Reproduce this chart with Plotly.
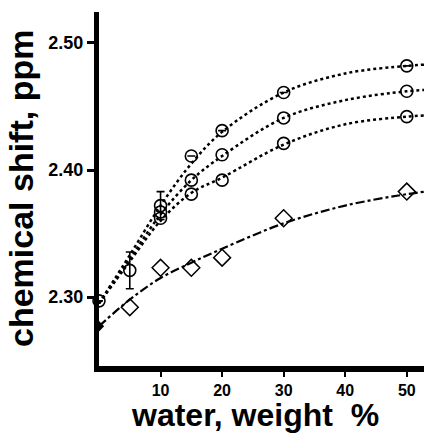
import plotly.graph_objects as go

# measured data points (water weight %, chemical shift ppm)
x_circ = [10, 15, 20, 30, 50]
top_y = [2.372, 2.411, 2.431, 2.461, 2.482]
mid_y = [2.367, 2.392, 2.412, 2.441, 2.462]
bot_y = [2.362, 2.381, 2.392, 2.421, 2.442]
top_err = [0.011, 0, 0, 0, 0]

x_shared = [0, 5]
shared_y = [2.297, 2.321]
shared_err = [0, 0.0145]

x_diam = [5, 10, 15, 20, 30, 50]
diam_y = [2.292, 2.323, 2.323, 2.331, 2.362, 2.383]
x_diam0 = [0]
diam0_y = [2.277]

# fitted curves
x_curve = [0, 5, 10, 15, 20, 30, 40, 50, 53]
top_curve = [2.295, 2.333, 2.372, 2.405, 2.430, 2.461, 2.476, 2.482, 2.483]
mid_curve = [2.295, 2.330, 2.365, 2.392, 2.411, 2.441, 2.455, 2.462, 2.463]
bot_curve = [2.295, 2.328, 2.360, 2.382, 2.394, 2.420, 2.436, 2.442, 2.443]
diam_curve = [2.277, 2.298, 2.315, 2.327, 2.338, 2.358, 2.372, 2.381, 2.383]

x_ticks = [10, 20, 30, 40, 50]
y_ticks = [2.30, 2.40, 2.50]
y_ticklabels = ["2.30", "2.40", "2.50"]

fig = go.Figure()
for c in (top_curve, mid_curve, bot_curve):
    fig.add_trace(go.Scatter(x=x_curve, y=c, mode="lines",
                             line=dict(color="black", width=2.5, dash="dot", shape="spline"),
                             hoverinfo="skip"))
fig.add_trace(go.Scatter(x=x_curve, y=diam_curve, mode="lines",
                         line=dict(color="black", width=2.2, dash="dashdot", shape="spline"),
                         hoverinfo="skip"))

circ_marker = dict(symbol="circle-open", size=12, color="black", line=dict(width=1.6))
fig.add_trace(go.Scatter(x=x_circ, y=top_y, mode="markers", marker=circ_marker,
                         error_y=dict(type="data", array=top_err, color="black", thickness=1.6, width=4)))
fig.add_trace(go.Scatter(x=x_circ, y=mid_y, mode="markers", marker=circ_marker))
fig.add_trace(go.Scatter(x=x_circ, y=bot_y, mode="markers", marker=circ_marker))
fig.add_trace(go.Scatter(x=x_shared, y=shared_y, mode="markers", marker=circ_marker,
                         error_y=dict(type="data", array=shared_err, color="black", thickness=1.6, width=4),
                         cliponaxis=False))
fig.add_trace(go.Scatter(x=x_diam, y=diam_y, mode="markers",
                         marker=dict(symbol="diamond-open", size=13, color="black", line=dict(width=1.5))))
fig.add_trace(go.Scatter(x=x_diam0, y=diam0_y, mode="markers", cliponaxis=False,
                         marker=dict(symbol="diamond", size=8, color="black")))

font_family = "Liberation Sans, Arial, sans-serif"
fig.update_layout(
    width=424, height=436,
    margin=dict(l=99, r=0, t=12, b=70, autoexpand=False),
    paper_bgcolor="white", plot_bgcolor="white",
    showlegend=False,
    font=dict(family=font_family, color="black"),
    xaxis=dict(range=[0, 52.8], showgrid=False, zeroline=False, automargin=False,
               showline=True, linecolor="black", linewidth=6,
               ticks="outside", ticklen=5, tickwidth=2, tickcolor="black",
               tickvals=x_ticks, ticktext=[str(v) for v in x_ticks],
               tickfont=dict(size=16, family=font_family, weight="bold")),
    yaxis=dict(range=[2.2457, 2.5244], showgrid=False, zeroline=False, automargin=False,
               showline=True, linecolor="black", linewidth=5,
               ticks="outside", ticklen=7, tickwidth=2.5, tickcolor="black",
               tickvals=y_ticks, ticktext=y_ticklabels,
               tickfont=dict(size=18, family=font_family, weight="bold")),
    annotations=[
        dict(text="water, weight  %", x=0.5, xref="paper", xanchor="center",
             xshift=-7, y=0, yref="paper", yanchor="top", yshift=-30, showarrow=False,
             borderpad=0,
             font=dict(size=32, family=font_family, weight="bold")),
        dict(text="chemical shift, ppm", x=0, xref="paper", xanchor="center",
             xshift=-78, y=0.5, yref="paper", yanchor="middle", textangle=-90,
             showarrow=False,
             font=dict(size=34, family=font_family, weight="bold")),
    ],
)

fig.write_html("out.html", config={"displayModeBar": False},
               post_script="document.body.style.margin='0';document.body.style.overflow='hidden';")
